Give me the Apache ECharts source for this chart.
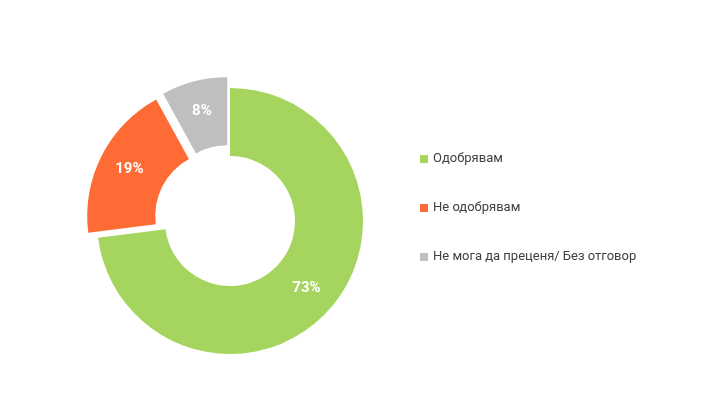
<!DOCTYPE html>
<html><head><meta charset="utf-8">
<script src="https://cdn.jsdelivr.net/npm/echarts@6/dist/echarts.min.js"></script>
<style>html,body{margin:0;padding:0;background:#fff}#c{width:728px;height:416px}</style>
</head><body><div id="c"></div>
<script>
const categories = ['Одобрявам', 'Не одобрявам', 'Не мога да преценя/ Без отговор'];
const values = [73, 19, 8];
const colors = ['#A5D55E', '#FF6B35', '#BFBFBF'];
const chart = echarts.init(document.getElementById('c'));
chart.setOption({
  animation: false,
  legend: {
    orient: 'vertical', left: 415, top: 'middle', itemGap: 36,
    icon: 'rect', itemWidth: 8, itemHeight: 8,
    textStyle: { fontFamily: 'Roboto', fontSize: 13, color: '#404040' },
    data: categories
  },
  series: [{
    type: 'pie', center: [230, 221], radius: [65, 133], startAngle: 90,
    selectedMode: 'multiple', selectedOffset: 11,
    label: { position: 'inside', formatter: '{c}%', color: '#fff', fontFamily: 'Roboto', fontWeight: 'bold', fontSize: 15 },
    labelLine: { show: false },
    emphasis: { disabled: true },
    data: categories.map((n, i) => ({ name: n, value: values[i], selected: i > 0, itemStyle: { color: colors[i] } }))
  }]
});
</script></body></html>
